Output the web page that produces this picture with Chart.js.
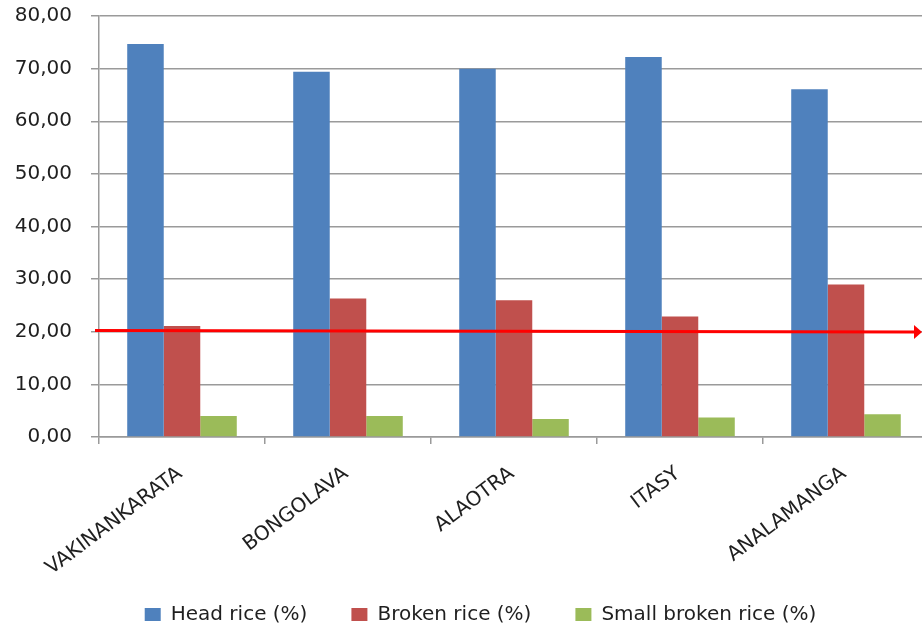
<!DOCTYPE html>
<html>
<head>
<meta charset="utf-8">
<script src="https://cdn.jsdelivr.net/npm/chart.js@4/dist/chart.umd.min.js"></script>
<style>
  html, body { margin: 0; padding: 0; background: #ffffff; overflow: hidden; }
  #wrap { width: 940px; height: 628px; }
</style>
</head>
<body>
<div id="wrap"><canvas id="chart" width="940" height="628"></canvas></div>
<script>
// Milling yield by region
const regions = ['VAKINANKARATA', 'BONGOLAVA', 'ALAOTRA', 'ITASY', 'ANALAMANGA'];
const headRice = [74.7, 69.4, 70.0, 72.2, 66.1];
const brokenRice = [21.1, 26.3, 26.0, 22.9, 29.0];
const smallBrokenRice = [4.0, 4.0, 3.4, 3.7, 4.3];
const seriesNames = ['Head rice (%)', 'Broken rice (%)', 'Small broken rice (%)'];
const yTickLabels = ['0,00', '10,00', '20,00', '30,00', '40,00', '50,00', '60,00', '70,00', '80,00'];
// reference level marked by the red arrow (value at its left end, value at its tip)
const referenceLevel = [20.25, 19.95];

const FONT = 'DejaVu Sans';
const TEXT = '#1f1f1f';
const GRID = '#9a9a9a';

// red reference arrow drawn across the plot through the y scale
const arrowPlugin = {
  id: 'referenceArrow',
  afterDatasetsDraw(chart) {
    const { ctx, chartArea, scales } = chart;
    const y = scales.y;
    const x0 = chartArea.left - 4;
    const tip = 922;
    const base = tip - 8;
    const y0 = y.getPixelForValue(referenceLevel[0]);
    const y1 = y.getPixelForValue(referenceLevel[1]);
    const yBase = y0 + (y1 - y0) * (base - x0) / (tip - x0);
    ctx.save();
    ctx.strokeStyle = '#ff0000';
    ctx.fillStyle = '#ff0000';
    ctx.lineWidth = 3;
    ctx.beginPath();
    ctx.moveTo(x0, y0);
    ctx.lineTo(base, yBase);
    ctx.stroke();
    ctx.beginPath();
    ctx.moveTo(base, yBase - 7);
    ctx.lineTo(tip, y1);
    ctx.lineTo(base, yBase + 7);
    ctx.closePath();
    ctx.fill();
    ctx.restore();
  }
};

// the legend sits a little higher and is centred under the visible width
const legendPlacement = {
  id: 'legendPlacement',
  afterLayout(chart) {
    const lg = chart.legend;
    if (!lg) return;
    lg.top -= 21.5; lg.bottom -= 21.5;
    lg.left += 16; lg.right += 16;
  }
};

new Chart(document.getElementById('chart'), {
  type: 'bar',
  data: {
    labels: regions,
    datasets: [
      { label: seriesNames[0], data: headRice, backgroundColor: '#4f81bd' },
      { label: seriesNames[1], data: brokenRice, backgroundColor: '#c0504d' },
      { label: seriesNames[2], data: smallBrokenRice, backgroundColor: '#9bbb59' }
    ]
  },
  options: {
    responsive: false,
    animation: false,
    devicePixelRatio: 1,
    layout: { padding: { left: 0, right: 11, top: 16, bottom: -28 } },
    datasets: { bar: { categoryPercentage: 0.66, barPercentage: 1.0 } },
    plugins: {
      tooltip: { enabled: false },
      legend: {
        position: 'bottom',
        labels: {
          boxWidth: 16,
          boxHeight: 13,
          padding: 44,
          color: TEXT,
          font: { family: FONT, size: 20 }
        }
      }
    },
    scales: {
      x: {
        afterFit(scale) { scale.height = 145; scale.paddingLeft = 0; scale.paddingRight = 0; },
        grid: { display: true, drawOnChartArea: false, drawTicks: true, tickLength: 7, color: GRID, lineWidth: 1.5 },
        border: { display: true, color: GRID, width: 1.5 },
        ticks: {
          minRotation: 37, maxRotation: 37, autoSkip: false, padding: 18, labelOffset: -2,
          color: TEXT, font: { family: FONT, size: 20 }
        }
      },
      y: {
        min: 0, max: 80,
        afterFit(scale) { scale.width = 99; scale.paddingTop = 0; scale.paddingBottom = 0; },
        grid: { color: GRID, lineWidth: 1.5, tickLength: 8 },
        border: { display: true, color: GRID, width: 1.5 },
        ticks: {
          stepSize: 10, padding: 19,
          color: TEXT, font: { family: FONT, size: 20 },
          callback: (value, index) => yTickLabels[index]
        }
      }
    }
  },
  plugins: [arrowPlugin, legendPlacement]
});
</script>
</body>
</html>
